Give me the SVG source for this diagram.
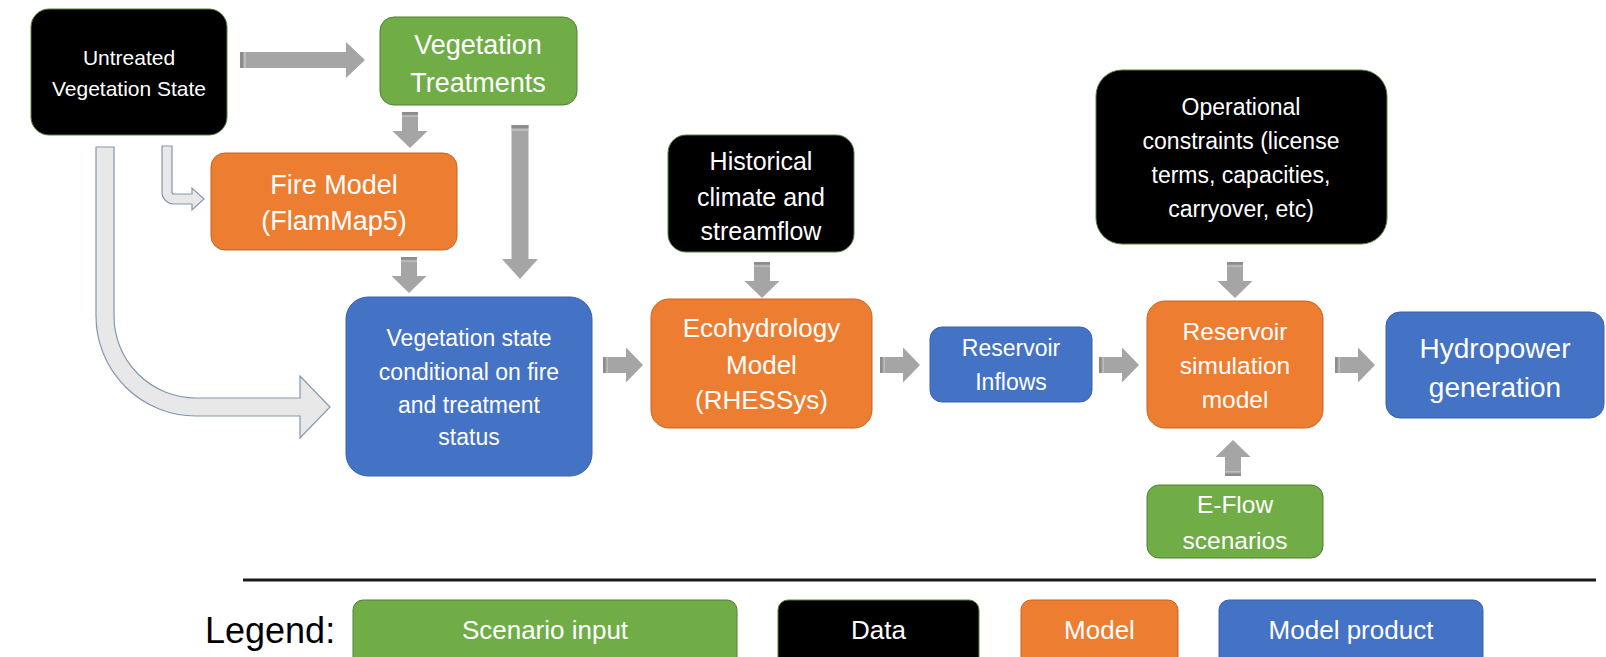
<svg xmlns="http://www.w3.org/2000/svg" width="1606" height="657" viewBox="0 0 1606 657">
<style>
text{font-family:"Liberation Sans",Arial,sans-serif;fill:#fff;text-anchor:middle}
.green{fill:#70AD47;stroke:#507E32;stroke-width:1}
.black{fill:#000;stroke:#548235;stroke-width:1}
.orange{fill:#ED7D31;stroke:#C9631E;stroke-width:1}
.blue{fill:#4472C4;stroke:#3A62A8;stroke-width:1}
.arr{fill:#A5A5A5}
.stripe{fill:#8C8C8C}
.stripe2{fill:#BDBDBD}
.light{fill:#E8E8E8;stroke:#8497B0;stroke-width:1.2}
.f21{font-size:21px}.f23{font-size:23px}.f24{font-size:24.5px}.f25{font-size:25px}.f26{font-size:26px}.f27{font-size:27px}.f28{font-size:28px}
.legend{fill:#000;text-anchor:start;font-size:36px}
</style>
<defs>
<g id="a36">
<path class="arr" d="M0,-8 H19 V-17.5 L36,0 L19,17.5 V8 H0 Z"/>
<rect class="stripe" x="0" y="-8" width="2.5" height="16"/>
<rect class="stripe2" x="3.5" y="-8" width="1.5" height="16"/>
</g>
<g id="a40">
<path class="arr" d="M0,-8 H23 V-17.5 L40,0 L23,17.5 V8 H0 Z"/>
<rect class="stripe" x="0" y="-8" width="2.5" height="16"/>
<rect class="stripe2" x="3.5" y="-8" width="1.5" height="16"/>
</g>
</defs>

<g id="connectors">
<path class="light" d="M96,147 H114 V316 A82,82 0 0 0 196,398 H300 V376 L330,407 L300,438 V416 H196 A100,100 0 0 1 96,316 Z"/>
<path class="light" d="M162,146 H172 V192 A2,2 0 0 0 174,194 H192 V188 L204,199 L192,210 V204 H174 A12,12 0 0 1 162,192 Z"/>
<g transform="translate(240,60)">
<path class="arr" d="M0,-8 H106 V-18 L125,0 L106,18 V8 H0 Z"/>
<rect class="stripe" x="0" y="-8" width="3" height="16"/>
<rect class="stripe2" x="4" y="-8" width="2" height="16"/>
</g>
<use href="#a36" transform="translate(410,112) rotate(90)"/>
<g transform="translate(520,125) rotate(90)">
<path class="arr" d="M0,-8.5 H134 V-18 L154,0 L134,18 V8.5 H0 Z"/>
<rect class="stripe" x="0" y="-8.5" width="3" height="17"/>
<rect class="stripe2" x="4" y="-8.5" width="2" height="17"/>
</g>
<use href="#a36" transform="translate(409,257) rotate(90)"/>
<use href="#a40" transform="translate(603,365)"/>
<use href="#a36" transform="translate(762,262) rotate(90)"/>
<use href="#a40" transform="translate(880,365)"/>
<use href="#a40" transform="translate(1099,365)"/>
<use href="#a36" transform="translate(1235,262) rotate(90)"/>
<use href="#a40" transform="translate(1335,365)"/>
<use href="#a36" transform="translate(1233,476) rotate(-90)"/>
</g>

<g id="untreated">
<rect class="black" x="31" y="9" width="196" height="126" rx="18"/>
<text class="f21" x="129" y="64.5">Untreated</text>
<text class="f21" x="129" y="95.5">Vegetation State</text>
</g>
<g id="veg-treatments">
<rect class="green" x="380" y="17" width="197" height="88" rx="14"/>
<text class="f27" x="478" y="53.5">Vegetation</text>
<text class="f27" x="478" y="91.5">Treatments</text>
</g>
<g id="fire-model">
<rect class="orange" x="211" y="153" width="246" height="97" rx="14"/>
<text class="f27" x="334" y="193.5">Fire Model</text>
<text class="f27" x="334" y="229.5">(FlamMap5)</text>
</g>
<g id="veg-state">
<rect class="blue" x="346" y="297" width="246" height="179" rx="22"/>
<text class="f23" x="469" y="346">Vegetation state</text>
<text class="f23" x="469" y="380">conditional on fire</text>
<text class="f23" x="469" y="413">and treatment</text>
<text class="f23" x="469" y="445">status</text>
</g>
<g id="historical">
<rect class="black" x="668" y="135" width="186" height="117" rx="18"/>
<text class="f25" x="761" y="170">Historical</text>
<text class="f25" x="761" y="206">climate and</text>
<text class="f25" x="761" y="240">streamflow</text>
</g>
<g id="ecohydrology">
<rect class="orange" x="651" y="299" width="221" height="129" rx="18"/>
<text class="f26" x="761.5" y="337">Ecohydrology</text>
<text class="f26" x="761.5" y="374">Model</text>
<text class="f26" x="761.5" y="409">(RHESSys)</text>
</g>
<g id="inflows">
<rect class="blue" x="930" y="327" width="162" height="75" rx="12"/>
<text class="f23" x="1011" y="356">Reservoir</text>
<text class="f23" x="1011" y="390">Inflows</text>
</g>
<g id="operational">
<rect class="black" x="1096" y="70" width="291" height="174" rx="26"/>
<text class="f23" x="1241" y="115">Operational</text>
<text class="f23" x="1241" y="149">constraints (license</text>
<text class="f23" x="1241" y="183">terms, capacities,</text>
<text class="f23" x="1241" y="217">carryover, etc)</text>
</g>
<g id="reservoir-sim">
<rect class="orange" x="1147" y="301" width="176" height="127" rx="18"/>
<text class="f24" x="1235" y="339.5">Reservoir</text>
<text class="f24" x="1235" y="373.5">simulation</text>
<text class="f24" x="1235" y="407.5">model</text>
</g>
<g id="hydropower">
<rect class="blue" x="1386" y="312" width="218" height="106" rx="14"/>
<text class="f28" x="1495" y="358">Hydropower</text>
<text class="f28" x="1495" y="397">generation</text>
</g>
<g id="eflow">
<rect class="green" x="1147" y="485" width="176" height="73" rx="12"/>
<text class="f24" x="1235" y="512.5">E-Flow</text>
<text class="f24" x="1235" y="548.5">scenarios</text>
</g>

<g id="legend">
<line x1="243" y1="580" x2="1596" y2="580" stroke="#1a1a1a" stroke-width="3"/>
<text class="legend" x="205" y="643">Legend:</text>
<rect class="green" x="353" y="600" width="384" height="70" rx="10"/>
<text class="f26" x="545" y="639">Scenario input</text>
<rect class="black" x="778" y="600" width="201" height="70" rx="10"/>
<text class="f26" x="878.5" y="639">Data</text>
<rect class="orange" x="1021" y="600" width="157" height="70" rx="10"/>
<text class="f26" x="1099.5" y="639">Model</text>
<rect class="blue" x="1219" y="600" width="264" height="70" rx="10"/>
<text class="f26" x="1351" y="639">Model product</text>
</g>
</svg>
